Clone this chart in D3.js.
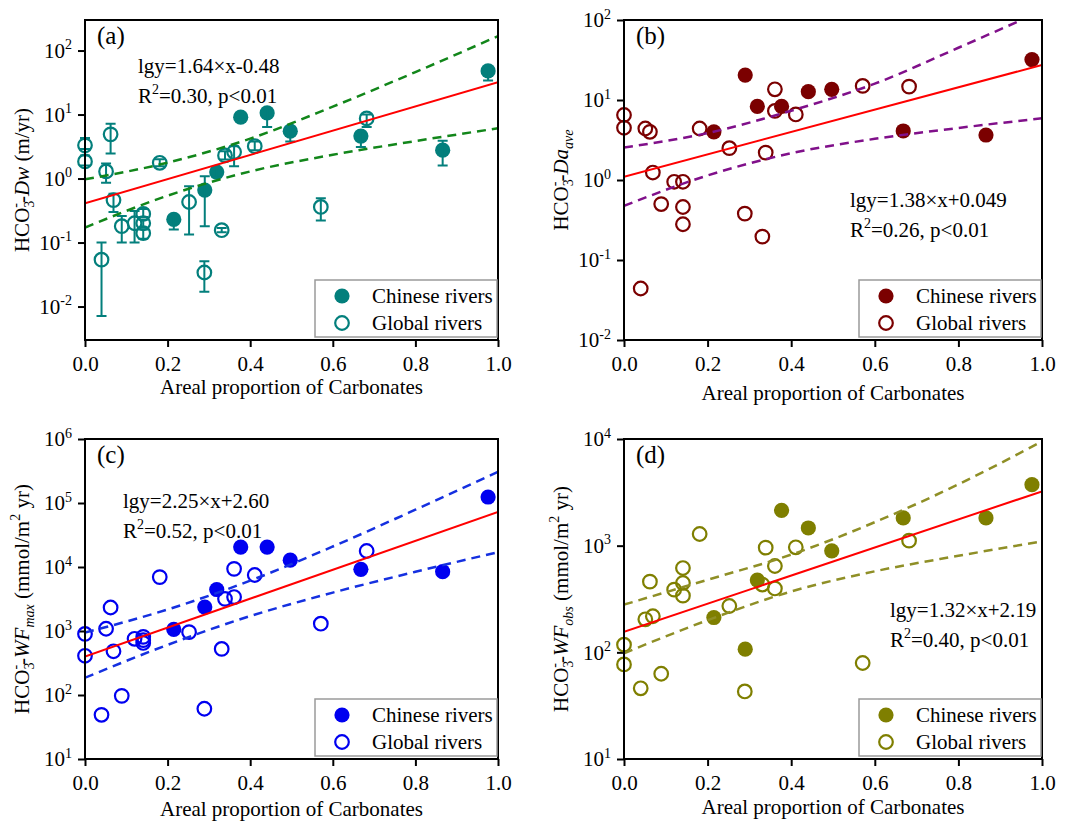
<!DOCTYPE html>
<html>
<head>
<meta charset="utf-8">
<script src="https://cdn.jsdelivr.net/npm/d3@7"></script>
<style>
  body { margin: 0; background: #fff; }
  svg, svg text { font-family: "Liberation Serif", "Times New Roman", serif; }
</style>
</head>
<body>
<script>
// x = areal proportion of carbonates
const chinaX = [0.215, 0.29, 0.319, 0.377, 0.441, 0.497, 0.668, 0.866, 0.976];
const globalX = [0, 0, 0.04, 0.051, 0.062, 0.069, 0.089, 0.12, 0.141, 0.141, 0.141, 0.181, 0.252, 0.289, 0.331, 0.339, 0.361, 0.361, 0.411, 0.571, 0.682];
const globalXa = [0, 0, 0.04, 0.051, 0.062, 0.069, 0.089, 0.12, 0.141, 0.141, 0.141, 0.181, 0.252, 0.289, 0.331, 0.339, 0.361, 0.411, 0.571, 0.682];

// (a) HCO3- Dw, with error bars
const aChinaY  = [0.23, 0.66, 1.26, 9.1, 10.6, 5.5, 4.6, 2.77, 48];
const aChinaLo = [0.16, 0.18, 1.05, 8.4, 6.4, 3.8, 3.1, 1.6, 34];
const aChinaHi = [0.26, 1.09, 1.45, 9.8, 12.3, 6.4, 5.4, 3.9, 55];
const aGlobalY  = [3.3, 1.85, 0.054, 1.29, 4.9, 0.46, 0.18, 0.2, 0.28, 0.2, 0.14, 1.76, 0.43, 0.034, 0.156, 2.3, 2.6, 3.2, 0.36, 8.7];
const aGlobalLo = [2.9, 1.6, 0.0071, 0.86, 2.46, 0.3, 0.1, 0.1, 0.25, 0.17, 0.115, 1.56, 0.133, 0.017, 0.145, 1.98, 1.56, 2.77, 0.22, 6.4];
const aGlobalHi = [4.3, 2.3, 0.1, 1.71, 7.2, 0.58, 0.26, 0.31, 0.335, 0.23, 0.16, 2.0, 0.76, 0.051, 0.168, 2.67, 3.2, 3.8, 0.49, 10];

// (b) HCO3- Da_ave
const bChinaY = [4.0, 20.5, 8.3, 8.3, 12.7, 13.6, 4.1, 3.65, 32];
const bGlobalY = [6.5, 4.5, 0.044, 4.4, 4.0, 1.24, 0.5, 0.95, 0.95, 0.46, 0.28, 4.4, 2.5, 0.38, 0.196, 2.2, 13.6, 7.3, 6.6, 15.0, 14.7];

// (c) HCO3- WF_max
const cChinaY = [1060, 2370, 4450, 20500, 20500, 12800, 9200, 8450, 124000];
const cGlobalY = [900, 410, 49, 1085, 2330, 482, 97, 755, 810, 650, 720, 6950, 960, 61, 525, 3180, 9350, 3390, 7500, 1300, 17800];

// (d) HCO3- WF_obs
const dChinaY = [212, 107, 476, 2140, 1465, 895, 1820, 1820, 3730];
const dGlobalY = [118, 77, 46, 204, 460, 218, 63, 387, 617, 447, 340, 1287, 272, 43, 432, 958, 645, 397, 965, 79.4, 1114];

// regression lines (values at x = 0 and x = 1) and 95% bands
const fitX = [0, 1];
const aFit = [0.41, 32];
const bFit = [1.1, 27.4];
const cFit = [400, 72300];
const dFit = [156, 3230];
const bandX = [0, 0.2, 0.4, 0.6, 0.8, 1.0];
const aUpper = [0.97, 1.77, 4.2, 13.3, 46, 168];
const aLower = [0.171, 0.54, 1.29, 2.35, 3.85, 6.1];
const bUpper = [2.55, 3.86, 7.35, 16, 45, 130];
const bLower = [0.475, 1.14, 2.16, 3.27, 4.47, 5.9];
const cUpper = [944, 2170, 6120, 20900, 78500, 307000];
const cLower = [186, 607, 1710, 3980, 8410, 17060];
const dUpper = [280, 479, 824, 1660, 3760, 9500];
const dLower = [98, 200, 372, 575, 804, 1096];

const xTicks = [0, 0.2, 0.4, 0.6, 0.8, 1.0];
const aTicks = [0.01, 0.1, 1, 10, 100];
const bTicks = [0.01, 0.1, 1, 10, 100];
const cTicks = [10, 100, 1e3, 1e4, 1e5, 1e6];
const dTicks = [10, 100, 1e3, 1e4];

const xTitle = "Areal proportion of Carbonates";
const legendNames = ["Chinese rivers", "Global rivers"];

const hco3 = [{t: "HCO"}, {t: "3", sub: true}, {t: "-", sup: true, dx: -7}, {t: "-"}];

const panels = [
  {id: "a", left: 85, right: 498, top: 20, bottom: 340, yDomain: [0.003, 300], ticks: aTicks,
   color: "#037f7c", band: "#12861a", chinaY: aChinaY, globalY: aGlobalY, gx: globalXa,
   chinaLo: aChinaLo, chinaHi: aChinaHi, globalLo: aGlobalLo, globalHi: aGlobalHi,
   fit: aFit, upper: aUpper, lower: aLower,
   title: hco3.concat([{t: "Dw", it: true}, {t: " (m/yr)"}]),
   eq: ["lgy=1.64\u00d7x-0.48", "0.30, p<0.01"], eqX: 138, eqY: 73, label: "(a)", xTitleY: 394},
  {id: "b", left: 624, right: 1042, top: 20, bottom: 340, yDomain: [0.01, 100], ticks: bTicks,
   color: "#7b0000", band: "#80108a", chinaY: bChinaY, globalY: bGlobalY, gx: globalX,
   fit: bFit, upper: bUpper, lower: bLower,
   title: hco3.concat([{t: "Da", it: true}, {t: "ave", sub: true, it: true}]),
   eq: ["lgy=1.38\u00d7x+0.049", "0.26, p<0.01"], eqX: 850, eqY: 207, label: "(b)", xTitleY: 400},
  {id: "c", left: 85, right: 498, top: 439, bottom: 759, yDomain: [10, 1e6], ticks: cTicks,
   color: "#0000f0", band: "#1530e0", chinaY: cChinaY, globalY: cGlobalY, gx: globalX,
   fit: cFit, upper: cUpper, lower: cLower,
   title: hco3.concat([{t: "WF", it: true}, {t: "max", sub: true, it: true}, {t: " (mmol/m"}, {t: "2", sup: true}, {t: " yr)"}]),
   eq: ["lgy=2.25\u00d7x+2.60", "0.52, p<0.01"], eqX: 123, eqY: 508, label: "(c)", xTitleY: 816},
  {id: "d", left: 624, right: 1042, top: 439, bottom: 759, yDomain: [10, 1e4], ticks: dTicks,
   color: "#7f7f00", band: "#8f8f26", chinaY: dChinaY, globalY: dGlobalY, gx: globalX,
   fit: dFit, upper: dUpper, lower: dLower,
   title: hco3.concat([{t: "WF", it: true}, {t: "obs", sub: true, it: true}, {t: " (mmol/m"}, {t: "2", sup: true}, {t: " yr)"}]),
   eq: ["lgy=1.32\u00d7x+2.19", "0.40, p<0.01"], eqX: 890, eqY: 617, label: "(d)", xTitleY: 814}
];

const fontFam = "'Liberation Serif', 'Times New Roman', serif";

const svg = d3.select("body").append("svg")
    .attr("width", 1070)
    .attr("height", 822)
    .attr("font-family", fontFam);

// writes rich text (sub/superscripts, italics) into a <text>
function richText(text, parts) {
  let base = 0;
  parts.forEach(pt => {
    const target = pt.sub ? 5 : pt.sup ? -9 : 0;
    const ts = text.append("tspan").text(pt.t);
    if (target !== base) ts.attr("dy", target - base);
    base = target;
    if (pt.sub || pt.sup) ts.attr("font-size", "14px");
    if (pt.it) ts.attr("font-style", "italic");
    if (pt.dx) ts.attr("dx", pt.dx);
  });
}

function drawPanel(p) {
  let x = d3.scaleLinear().domain([0, 1]).range([p.left, p.right]);
  let y = d3.scaleLog().domain(p.yDomain).range([p.bottom, p.top]);
  let g = svg.append("g");

  svg.append("clipPath").attr("id", "clip-" + p.id)
    .append("rect")
    .attr("x", p.left).attr("y", p.top)
    .attr("width", p.right - p.left).attr("height", p.bottom - p.top);

  // axes
  let xAxis = g.append("g")
      .attr("transform", `translate(0,${p.bottom})`)
      .call(d3.axisBottom(x).tickValues(xTicks).tickFormat(d3.format(".1f")).tickSize(7).tickPadding(9));
  let yAxis = g.append("g")
      .attr("transform", `translate(${p.left},0)`)
      .call(d3.axisLeft(y).tickValues(p.ticks).tickSize(7).tickPadding(6));
  [xAxis, yAxis].forEach(a => {
    a.attr("font-family", fontFam).attr("font-size", 21);
    a.select(".domain").remove();
    a.selectAll(".tick line").attr("stroke", "#000").attr("stroke-width", 2);
    a.selectAll(".tick text").attr("fill", "#000").attr("font-size", "21px");
  });
  yAxis.selectAll(".tick text").each(function(d) {
    let t = d3.select(this).text(null);
    t.append("tspan").text("10");
    t.append("tspan").attr("dy", "-0.62em").attr("font-size", "14px")
      .text(Math.round(Math.log10(d)));
  });

  // axis titles
  g.append("text")
    .attr("x", (p.left + p.right) / 2).attr("y", p.xTitleY)
    .attr("text-anchor", "middle").attr("font-size", "21px")
    .text(xTitle);
  let yt = g.append("text")
    .attr("transform", `translate(${p.left - 56},${(p.top + p.bottom) / 2}) rotate(-90)`)
    .attr("text-anchor", "middle").attr("font-size", "21px");
  richText(yt, p.title);

  // markers
  let pts = g.append("g");
  let globalPts = p.gx.map((v, i) => ({x: v, y: p.globalY[i], lo: p.globalLo && p.globalLo[i], hi: p.globalHi && p.globalHi[i]}));
  let chinaPts = chinaX.map((v, i) => ({x: v, y: p.chinaY[i], lo: p.chinaLo && p.chinaLo[i], hi: p.chinaHi && p.chinaHi[i]}));

  pts.selectAll("circle.global")
    .data(globalPts).enter().append("circle")
    .attr("cx", d => x(d.x)).attr("cy", d => y(d.y)).attr("r", 6.8)
    .attr("fill", "none").attr("stroke", p.color).attr("stroke-width", 2.2);
  pts.selectAll("circle.china")
    .data(chinaPts).enter().append("circle")
    .attr("cx", d => x(d.x)).attr("cy", d => y(d.y)).attr("r", 7.6)
    .attr("fill", p.color);

  if (p.chinaLo) {
    let bars = globalPts.concat(chinaPts);
    let eb = g.append("g").attr("stroke", p.color).attr("stroke-width", 2).attr("fill", "none");
    eb.selectAll("path")
      .data(bars).enter().append("path")
      .attr("d", d => {
        let cx = x(d.x), y0 = y(d.lo), y1 = y(d.hi);
        return `M${cx},${y0}V${y1}M${cx - 5},${y0}H${cx + 5}M${cx - 5},${y1}H${cx + 5}`;
      });
  }

  // regression + confidence bands
  let lines = g.append("g").attr("clip-path", `url(#clip-${p.id})`).attr("fill", "none");
  let bandLine = d3.line().x(d => x(d[0])).y(d => y(d[1])).curve(d3.curveMonotoneX);
  [p.upper, p.lower].forEach(arr => {
    lines.append("path")
      .attr("d", bandLine(bandX.map((v, i) => [v, arr[i]])))
      .attr("stroke", p.band).attr("stroke-width", 2.5)
      .attr("stroke-dasharray", "9,6");
  });
  lines.append("path")
    .attr("d", d3.line().x(d => x(d[0])).y(d => y(d[1]))(fitX.map((v, i) => [v, p.fit[i]])))
    .attr("stroke", "#ff0000").attr("stroke-width", 2);

  // frame
  g.append("rect")
    .attr("x", p.left).attr("y", p.top)
    .attr("width", p.right - p.left).attr("height", p.bottom - p.top)
    .attr("fill", "none").attr("stroke", "#000").attr("stroke-width", 2);

  // panel label + equation
  g.append("text").attr("x", p.left + 12).attr("y", p.top + 24)
    .attr("font-size", "25px").text(p.label);
  g.append("text").attr("x", p.eqX).attr("y", p.eqY)
    .attr("font-size", "21px").text(p.eq[0]);
  let r2 = g.append("text").attr("x", p.eqX).attr("y", p.eqY + 30).attr("font-size", "21px");
  richText(r2, [{t: "R"}, {t: "2", sup: true}, {t: "=" + p.eq[1]}]);

  // legend
  let lx = p.right - 183, ly = p.bottom - 60;
  let lg = g.append("g");
  lg.append("rect").attr("x", lx).attr("y", ly).attr("width", 182).attr("height", 57)
    .attr("fill", "#fff").attr("stroke", "#9a9a9a").attr("stroke-width", 1.5);
  lg.append("circle").attr("cx", lx + 27).attr("cy", ly + 16).attr("r", 7.6).attr("fill", p.color);
  lg.append("circle").attr("cx", lx + 27).attr("cy", ly + 43).attr("r", 6.8)
    .attr("fill", "none").attr("stroke", p.color).attr("stroke-width", 2.2);
  legendNames.forEach((n, i) => {
    lg.append("text").attr("x", lx + 57).attr("y", ly + 23 + i * 27)
      .attr("font-size", "21px").text(n);
  });
}

panels.forEach(drawPanel);
</script>
</body>
</html>
